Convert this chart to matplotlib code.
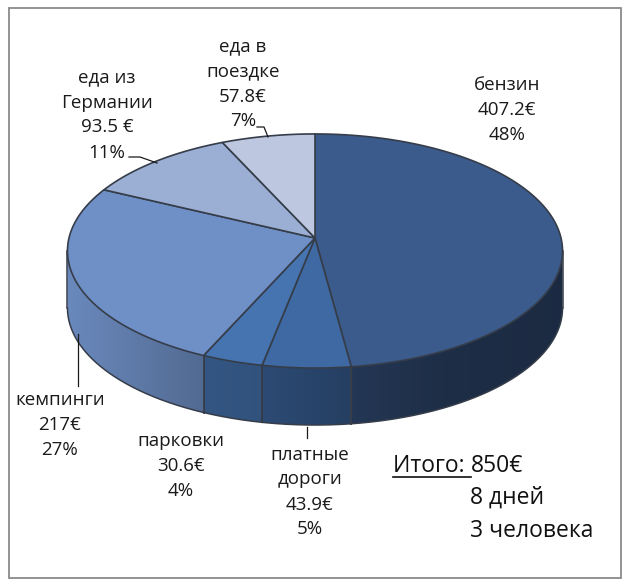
import numpy as np
import matplotlib.pyplot as plt
from matplotlib.patches import Polygon, Rectangle
from matplotlib.colors import to_rgb

plt.rcParams['font.family'] = ['Open Sans', 'Noto Sans', 'DejaVu Sans']

# data
names = ['бензин', 'платные\nдороги', 'парковки', 'кемпинги', 'еда из\nГермании', 'еда в\nпоездке']
values = [407.2, 43.9, 30.6, 217.0, 93.5, 57.8]
value_txt = ['407.2€', '43.9€', '30.6€', '217€', '93.5 €', '57.8€']
pct_txt = ['48%', '5%', '4%', '27%', '11%', '7%']
total_txt = 'Итого: '
total_val = '850€'
extra_lines = ['8 дней', '3 человека']

top_colors = ['#3b5b8c', '#3e69a3', '#4574b0', '#6f90c6', '#9aafd3', '#bdc8e0']

# pie geometry in pixels (y goes down), simple perspective
hx, hy = 315.0, 238.0     # hub
Ru, Rv, k = 246.0, 115.6, 0.111
h = 57.0

# label layout (block centre) and leader lines
label_pos = [(507, 110), (310, 492), (181, 466), (60, 425), (107, 115), (243, 84)]
leaders = [None,
           [(307, 427), (307, 438)],
           None,
           [(78, 334), (78, 386)],
           [(129, 157), (140, 157), (157, 163)],
           [(257, 127), (264, 127), (268, 137)]]


def pt(t, dy=0.0):
    r = np.radians(t)
    w = 1 + k * np.cos(r)
    return hx + Ru * np.sin(r) / w, hy - Rv * np.cos(r) / w + dy


def side_shade(x):
    xs = [67, 203, 262, 350, 450, 562]
    fs = [0.95, 0.74, 0.71, 0.60, 0.50, 0.47]
    return np.interp(x, xs, fs)


fig = plt.figure(figsize=(6.33, 5.87), dpi=100)
ax = fig.add_axes([0, 0, 1, 1])
ax.set_xlim(0, 633)
ax.set_ylim(587, 0)
ax.axis('off')

ax.add_patch(Rectangle((9, 8), 612, 570, fill=False, ec='#8a8a8a', lw=1.3))

vals = np.array(values)
bounds = np.concatenate([[0], np.cumsum(vals) / vals.sum() * 360])
edge = '#363d4a'

# extreme angles of the silhouette
t_right = np.degrees(np.arccos(-k))
t_left = 360 - t_right

# sides (front part only), gradient clipped to each side piece
gx = np.linspace(60, 570, 400)
for i in range(len(vals)):
    t0, t1 = max(bounds[i], t_right), min(bounds[i + 1], t_left)
    if t1 <= t0:
        continue
    ts = np.linspace(t0, t1, 200)
    top = [pt(t) for t in ts]
    bot = [pt(t, h) for t in ts[::-1]]
    poly = Polygon(top + bot, closed=True, fc='none', ec='none')
    ax.add_patch(poly)
    base = np.array(to_rgb(top_colors[i]))
    img = np.clip(base[None, None, :] * side_shade(gx)[None, :, None], 0, 1)
    im = ax.imshow(img, extent=(60, 570, 440, 200), aspect='auto',
                   interpolation='bilinear', zorder=1)
    im.set_clip_path(poly)
    for t in (t0, t1):
        x0, y0 = pt(t)
        ax.plot([x0, x0], [y0, y0 + h], color=edge, lw=1.1, zorder=2)
    bx, by = zip(*[pt(t, h) for t in ts])
    ax.plot(bx, by, color=edge, lw=1.1, zorder=2)

# top faces
for i in range(len(vals)):
    ts = np.linspace(bounds[i], bounds[i + 1], 200)
    poly = [(hx, hy)] + [pt(t) for t in ts]
    ax.add_patch(Polygon(poly, closed=True, fc=top_colors[i], ec=edge, lw=1.2,
                         joinstyle='round', zorder=3))

# labels
for i in range(len(vals)):
    txt = f'{names[i]}\n{value_txt[i]}\n{pct_txt[i]}'
    ax.text(label_pos[i][0], label_pos[i][1], txt, ha='center', va='center',
            fontsize=13.5, linespacing=1.5, color='#1a1a1a', zorder=5)
    if leaders[i]:
        lx, ly = zip(*leaders[i])
        ax.plot(lx, ly, color='#1a1a1a', lw=0.9, zorder=5)

# total block
t_it = ax.text(393, 466, total_txt, ha='left', va='center', fontsize=16.5, color='#111111')
fig.canvas.draw()
bb = t_it.get_window_extent().transformed(ax.transData.inverted())
x_end = max(bb.x0, bb.x1)
ax.plot([393, x_end], [477, 477], color='#111111', lw=1.2)
ax.text(x_end, 466, total_val, ha='left', va='center', fontsize=16.5, color='#111111')
for j, s in enumerate(extra_lines):
    ax.text(x_end, 498 + j * 33, s, ha='left', va='center', fontsize=16.5, color='#111111')

fig.savefig('out.png', dpi=100)
